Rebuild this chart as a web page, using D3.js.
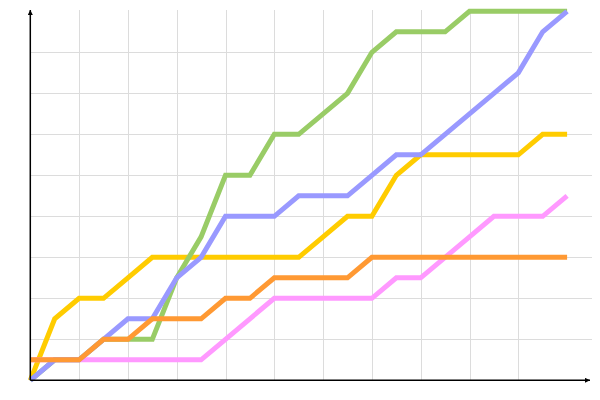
<!DOCTYPE html>
<html>
<head>
<meta charset="utf-8">
<script src="https://cdn.jsdelivr.net/npm/d3@7"></script>
<style>
  body { margin: 0; background: #fff; }
  svg { display: block; }
</style>
</head>
<body>
<div class="display"></div>
<script>
// x positions (half steps), one value per point in every series
const xValues = [0, 0.5, 1, 1.5, 2, 2.5, 3, 3.5, 4, 4.5, 5, 5.5, 6, 6.5, 7, 7.5, 8, 8.5, 9, 9.5, 10, 10.5, 11];

const yellowValues = [0, 1.5, 2, 2, 2.5, 3, 3, 3, 3, 3, 3, 3, 3.5, 4, 4, 5, 5.5, 5.5, 5.5, 5.5, 5.5, 6, 6];
const greenValues  = [0, 0.5, 0.5, 1, 1, 1, 2.5, 3.5, 5, 5, 6, 6, 6.5, 7, 8, 8.5, 8.5, 8.5, 9, 9, 9, 9, 9];
const pinkValues   = [0.5, 0.5, 0.5, 0.5, 0.5, 0.5, 0.5, 0.5, 1, 1.5, 2, 2, 2, 2, 2, 2.5, 2.5, 3, 3.5, 4, 4, 4, 4.5];
const blueValues   = [0, 0.5, 0.5, 1, 1.5, 1.5, 2.5, 3, 4, 4, 4, 4.5, 4.5, 4.5, 5, 5.5, 5.5, 6, 6.5, 7, 7.5, 8.5, 9];
const orangeValues = [0.5, 0.5, 0.5, 1, 1, 1.5, 1.5, 1.5, 2, 2, 2.5, 2.5, 2.5, 2.5, 3, 3, 3, 3, 3, 3, 3, 3, 3];

const xGridTicks = [1, 2, 3, 4, 5, 6, 7, 8, 9, 10];
const yGridTicks = [1, 2, 3, 4, 5, 6, 7, 8];

const width = 600;
const height = 400;

const x = d3.scaleLinear().domain([0, 11.5]).range([30.3, 591.5]);
const y = d3.scaleLinear().domain([0, 9]).range([380.3, 11.3]);

const svg = d3.select('.display')
  .append('svg')
  .attr('width', width)
  .attr('height', height);

// grid
const xGrid = svg.append('g')
  .attr('transform', `translate(0, ${y(0)})`)
  .call(d3.axisBottom(x).tickValues(xGridTicks).tickSize(-(y(0) - 10)).tickFormat(''));
const yGrid = svg.append('g')
  .attr('transform', `translate(${x(0)}, 0)`)
  .call(d3.axisLeft(y).tickValues(yGridTicks).tickSize(-(x(11.5) - x(0))).tickFormat(''));
[xGrid, yGrid].forEach(g => {
  g.select('.domain').remove();
  g.selectAll('line').attr('stroke', '#dcdcdc').attr('shape-rendering', 'crispEdges');
});

// lines, bottom to top
const series = [
  {values: yellowValues, color: '#FFCC00'},
  {values: greenValues, color: '#99CC66'},
  {values: pinkValues, color: '#FF99FF'},
  {values: blueValues, color: '#9999FF'},
  {values: orangeValues, color: '#FF9933'}
];

const line = d3.line()
  .x(d => x(d[0]))
  .y(d => y(d[1]));

svg.append('g')
  .selectAll('path')
  .data(series)
  .enter()
  .append('path')
  .attr('fill', 'none')
  .attr('stroke', d => d.color)
  .attr('stroke-width', 5)
  .attr('d', d => line(xValues.map((xv, i) => [xv, d.values[i]])));

// axes with arrows
svg.append('defs')
  .append('marker')
  .attr('id', 'arrow')
  .attr('viewBox', '0 0 10 10')
  .attr('refX', 10)
  .attr('refY', 5)
  .attr('markerWidth', 5)
  .attr('markerHeight', 5)
  .attr('markerUnits', 'userSpaceOnUse')
  .attr('orient', 'auto')
  .append('path')
  .attr('d', 'M0,0L10,5L0,10Z')
  .attr('fill', '#000');

svg.append('line')
  .attr('x1', x(0)).attr('y1', y(0))
  .attr('x2', 590).attr('y2', y(0))
  .attr('stroke', '#000')
  .attr('stroke-width', 1.5)
  .attr('marker-end', 'url(#arrow)');

svg.append('line')
  .attr('x1', x(0)).attr('y1', y(0))
  .attr('x2', x(0)).attr('y2', 10)
  .attr('stroke', '#000')
  .attr('stroke-width', 1.5)
  .attr('marker-end', 'url(#arrow)');
</script>
</body>
</html>
